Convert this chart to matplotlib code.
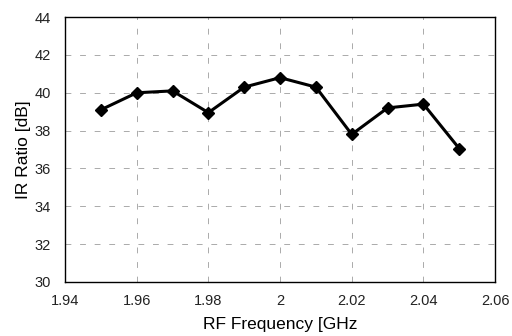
import matplotlib
matplotlib.use("Agg")
import matplotlib.pyplot as plt

# data
freq = [1.95, 1.96, 1.97, 1.98, 1.99, 2.00, 2.01, 2.02, 2.03, 2.04, 2.05]
ir_ratio = [39.1, 40.0, 40.1, 38.95, 40.3, 40.8, 40.3, 37.8, 39.2, 39.4, 37.05]
x_ticks = [1.94, 1.96, 1.98, 2.00, 2.02, 2.04, 2.06]
x_labels = ["1.94", "1.96", "1.98", "2", "2.02", "2.04", "2.06"]
y_ticks = [30, 32, 34, 36, 38, 40, 42, 44]

plt.rcParams['font.family'] = ['Liberation Sans', 'DejaVu Sans']

fig = plt.figure(figsize=(5.12, 3.36), dpi=100)
ax = fig.add_axes([0.127, 0.161, 0.840, 0.788])

ax.plot(freq, ir_ratio, color='black', linewidth=2.2, marker='D', markersize=6)

ax.set_xlim(1.94, 2.06)
ax.set_ylim(30, 44)
ax.set_xticks(x_ticks)
ax.set_xticklabels(x_labels)
ax.set_yticks(y_ticks)
ax.tick_params(length=0, labelsize=10.5, colors='#222222')
ax.tick_params(axis='x', pad=9)
ax.tick_params(axis='y', pad=10)
ax.grid(True, linestyle=(0, (6, 9)), color='#aaaaaa', linewidth=0.7)

for s in ax.spines.values():
    s.set_linewidth(1.0)

ax.set_xlabel("RF Frequency [GHz", fontsize=12.5, labelpad=6)
ax.set_ylabel("IR Ratio [dB]", fontsize=12.5, labelpad=3)

fig.savefig('out.png', dpi=100)
